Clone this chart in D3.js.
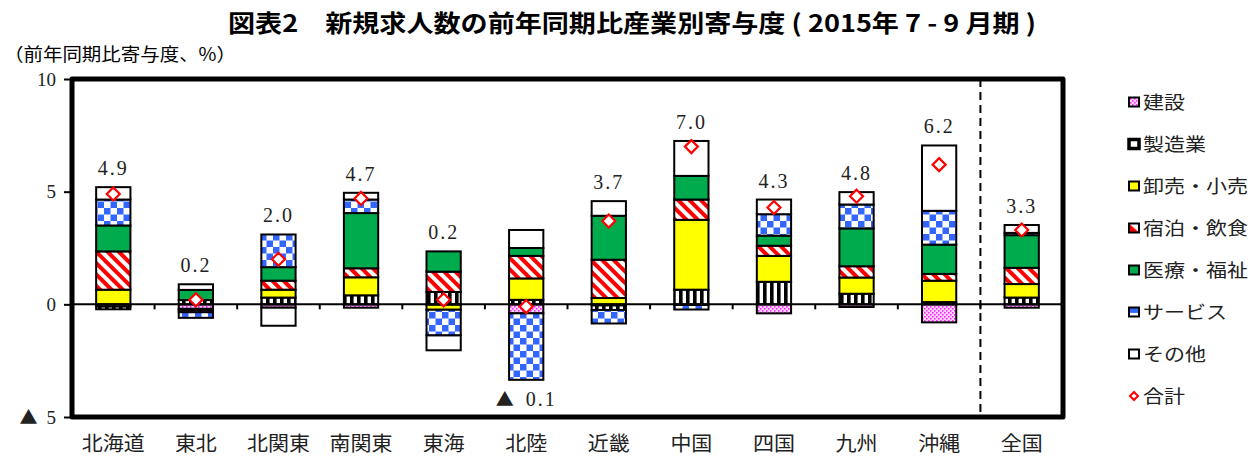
<!DOCTYPE html>
<html><head><meta charset="utf-8">
<script src="https://cdn.jsdelivr.net/npm/d3@7"></script>
<style>
html,body{margin:0;padding:0;background:#fff;}
svg{display:block;}
</style></head>
<body>
<svg id="chart" width="1258" height="457"></svg>
<script>
const categories = ["北海道","東北","北関東","南関東","東海","北陸","近畿","中国","四国","九州","沖縄","全国"];
const seriesNames = ["建設","製造業","卸売・小売","宿泊・飲食","医療・福祉","サービス","その他"];
const construction  = [-0.10,-0.20,-0.15,-0.15,-0.02,-0.40,-0.05,-0.03,-0.40,-0.12,-0.80,-0.15];
const manufacturing = [-0.12, 0.19, 0.30, 0.40, 0.55, 0.20,-0.20, 0.65, 1.00, 0.47, 0.10, 0.30];
const wholesale     = [ 0.65,-0.05, 0.35, 0.80,-0.22, 0.95, 0.28, 3.10, 1.15, 0.72, 0.95, 0.60];
const hospitality   = [ 1.70,-0.10, 0.40, 0.40, 0.90, 1.00, 1.70, 0.90, 0.45, 0.50, 0.30, 0.72];
const medical       = [ 1.15, 0.45, 0.60, 2.45, 0.90, 0.35, 1.95, 1.05, 0.45, 1.68, 1.30, 1.45];
const services      = [ 1.15,-0.25, 1.45, 0.60,-1.14,-2.95,-0.60,-0.20, 0.95, 1.06, 1.50, 0.10];
const other         = [ 0.55, 0.25,-0.80, 0.30,-0.66, 0.80, 0.65, 1.55, 0.65, 0.55, 2.90, 0.35];
const total         = [ 4.9, 0.2, 2.0, 4.7, 0.2, -0.1, 3.7, 7.0, 4.3, 4.8, 6.2, 3.3];
const yTicks = [10, 5, 0, -5];

const seriesValues = [construction, manufacturing, wholesale, hospitality, medical, services, other];
const table = categories.map((c, i) => {
  const row = {cat: c};
  seriesNames.forEach((k, j) => row[k] = seriesValues[j][i]);
  return row;
});

const svg = d3.select("#chart");
const defs = svg.append("defs");

// patterns
const pC = defs.append("pattern").attr("id","pC").attr("patternUnits","userSpaceOnUse").attr("width",4).attr("height",4);
pC.append("rect").attr("width",4).attr("height",4).attr("fill","#ffd6ff");
pC.append("rect").attr("x",0).attr("y",0).attr("width",1.6).attr("height",1.6).attr("fill","#ff22ff");
pC.append("rect").attr("x",2).attr("y",2).attr("width",1.6).attr("height",1.6).attr("fill","#ff22ff");

const pM = defs.append("pattern").attr("id","pM").attr("patternUnits","userSpaceOnUse").attr("width",7).attr("height",10);
pM.append("rect").attr("width",7).attr("height",10).attr("fill","#fff");
pM.append("rect").attr("x",0).attr("width",3.6).attr("height",10).attr("fill","#000");

const pH = defs.append("pattern").attr("id","pH").attr("patternUnits","userSpaceOnUse").attr("width",8).attr("height",10).attr("patternTransform","rotate(-45)");
pH.append("rect").attr("width",8).attr("height",10).attr("fill","#fff");
pH.append("rect").attr("x",0).attr("width",4).attr("height",10).attr("fill","#ff0000");

const pS = defs.append("pattern").attr("id","pS").attr("patternUnits","userSpaceOnUse").attr("width",13).attr("height",13);
pS.append("rect").attr("width",13).attr("height",13).attr("fill","#fff");
pS.append("rect").attr("x",0).attr("y",0).attr("width",6.5).attr("height",6.5).attr("fill","#3366ff");
pS.append("rect").attr("x",6.5).attr("y",6.5).attr("width",6.5).attr("height",6.5).attr("fill","#3366ff");

const fills = {
  "建設":"url(#pC)", "製造業":"url(#pM)", "卸売・小売":"#ffff00", "宿泊・飲食":"url(#pH)",
  "医療・福祉":"#00ab4e", "サービス":"url(#pS)", "その他":"#ffffff"
};

const x0 = 72, x1 = 1063;
const x = d3.scaleBand().domain(categories).range([x0, x1]).padding(0);
const y = d3.scaleLinear().domain([-5, 10]).range([417, 79]);
const barW = x.bandwidth() * 0.415;

const cjk = "'Noto Sans CJK JP', sans-serif";
const serif = "'Liberation Serif', 'DejaVu Serif', serif";

// Title
svg.append("text").attr("x", 228).attr("y", 32)
  .attr("font-family", cjk).attr("font-weight", "bold").attr("font-size", 24)
  .attr("textLength", 808).attr("lengthAdjust", "spacingAndGlyphs")
  .text("図表2　新規求人数の前年同期比産業別寄与度 ( 2015年 7 - 9 月期 )");
svg.append("text").attr("x", 4).attr("y", 61)
  .attr("font-family", cjk).attr("font-size", 18)
  .attr("textLength", 232).attr("lengthAdjust", "spacingAndGlyphs")
  .text("（前年同期比寄与度、%）");

// stacks
const stack = d3.stack().keys(seriesNames).offset(d3.stackOffsetDiverging);
const stacked = stack(table);

const g = svg.append("g");
stacked.forEach(layer => {
  g.append("g").selectAll("rect").data(layer).join("rect")
    .attr("x", d => x(d.data.cat) + x.bandwidth()/2 - barW/2)
    .attr("width", barW)
    .attr("y", d => y(Math.max(d[0], d[1])))
    .attr("height", d => Math.abs(y(d[0]) - y(d[1])))
    .attr("fill", fills[layer.key])
    .attr("stroke", "#000").attr("stroke-width", 2);
});

// zero line
svg.append("line").attr("x1", x0).attr("x2", x1).attr("y1", y(0)).attr("y2", y(0))
  .attr("stroke", "#000").attr("stroke-width", 2);
// ticks at band boundaries
categories.slice(1).forEach(c => {
  svg.append("line").attr("x1", x(c)).attr("x2", x(c)).attr("y1", y(0)).attr("y2", y(0) + 5)
    .attr("stroke", "#000").attr("stroke-width", 2);
});
// dashed separator
svg.append("line").attr("x1", x("全国")).attr("x2", x("全国")).attr("y1", y(10)).attr("y2", y(-5))
  .attr("stroke", "#000").attr("stroke-width", 2).attr("stroke-dasharray", "8,5");

// border
svg.append("rect").attr("x", x0).attr("y", y(10)).attr("width", x1 - x0).attr("height", y(-5) - y(10))
  .attr("fill", "none").attr("stroke", "#000").attr("stroke-width", 5).attr("stroke-linejoin", "round");

// y axis
const yAxis = d3.axisLeft(y).tickValues(yTicks).tickSize(6).tickPadding(8)
  .tickFormat(v => String(Math.abs(v)));
const ya = svg.append("g").attr("transform", `translate(${x0 - 2},0)`).call(yAxis);
ya.select(".domain").remove();
ya.selectAll(".tick line").attr("stroke-width", 2);
ya.selectAll("text").attr("font-family", serif).attr("font-size", 19).attr("fill", "#222");
ya.selectAll(".tick").filter(v => v < 0).select("text").each(function(v) {
  const t = d3.select(this);
  t.text(null);
  t.append("tspan").attr("font-family", cjk).attr("font-size", 18).text("▲");
  t.append("tspan").attr("dx", 9).text(String(Math.abs(v)));
});

// x labels
svg.append("g").selectAll("text").data(categories).join("text")
  .attr("x", d => x(d) + x.bandwidth()/2).attr("y", 451)
  .attr("text-anchor", "middle")
  .attr("font-family", cjk).attr("font-size", 20).attr("fill", "#222")
  .attr("textLength", d => d.length * 21).attr("lengthAdjust", "spacingAndGlyphs")
  .text(d => d);

// total labels
const posTop = categories.map((c, i) => d3.sum(seriesValues, s => Math.max(0, s[i])));
const negBot = categories.map((c, i) => d3.sum(seriesValues, s => Math.min(0, s[i])));
const lbl = svg.append("g").selectAll("text").data(categories).join("text")
  .attr("x", d => x(d) + x.bandwidth()/2)
  .attr("y", (d, i) => total[i] >= 0 ? y(posTop[i]) - 12 : y(negBot[i]) + 26)
  .attr("text-anchor", "middle")
  .attr("font-family", serif).attr("font-size", 20).attr("letter-spacing", 2).attr("fill", "#222");
lbl.each(function(d, i) {
  const t = d3.select(this);
  if (total[i] < 0) {
    t.append("tspan").attr("font-family", cjk).attr("font-size", 18).text("▲");
    t.append("tspan").attr("dx", 10).text(Math.abs(total[i]).toFixed(1));
  } else {
    t.text(total[i].toFixed(1));
  }
});

// diamonds
const dm = 6.5;
const diamond = `M0,${-dm}L${dm},0L0,${dm}L${-dm},0Z`;
svg.append("g").selectAll("path").data(categories).join("path")
  .attr("transform", (d, i) => `translate(${x(d) + x.bandwidth()/2},${y(total[i])})`)
  .attr("d", diamond).attr("fill", "#fff").attr("stroke", "#ff0000").attr("stroke-width", 2.2);

// legend
const legendNames = seriesNames.concat(["合計"]);
const lg = svg.append("g");
legendNames.forEach((name, i) => {
  const cy = 102 + i * 42;
  const sx = 1129, sw = 10, sh = 9;
  if (name === "合計") {
    lg.append("path").attr("transform", `translate(${sx + sw/2},${cy})`)
      .attr("d", "M0,-4L4,0L0,4L-4,0Z").attr("fill", "#fff").attr("stroke", "#ff0000").attr("stroke-width", 2);
  } else if (name === "宿泊・飲食") {
    lg.append("rect").attr("x", sx).attr("y", cy - sh/2).attr("width", sw).attr("height", sh).attr("fill", "#fff");
    lg.append("path").attr("d", `M${sx},${cy - sh/2}L${sx + sw},${cy + sh/2}L${sx},${cy + sh/2}Z`).attr("fill", "#ff0000");
    lg.append("rect").attr("x", sx).attr("y", cy - sh/2).attr("width", sw).attr("height", sh).attr("fill", "none").attr("stroke", "#000").attr("stroke-width", 2);
  } else if (name === "製造業") {
    lg.append("rect").attr("x", sx).attr("y", cy - sh/2).attr("width", sw).attr("height", sh).attr("fill", "#fff").attr("stroke", "#000").attr("stroke-width", 3.5);
  } else if (name === "サービス") {
    lg.append("rect").attr("x", sx).attr("y", cy - sh/2).attr("width", sw).attr("height", sh).attr("fill", "#fff");
    lg.append("rect").attr("x", sx).attr("y", cy - sh/2).attr("width", sw).attr("height", sh * 0.6).attr("fill", "#3366ff");
    lg.append("rect").attr("x", sx).attr("y", cy - sh/2).attr("width", sw).attr("height", sh).attr("fill", "none").attr("stroke", "#000").attr("stroke-width", 2);
  } else {
    lg.append("rect").attr("x", sx).attr("y", cy - sh/2).attr("width", sw).attr("height", sh)
      .attr("fill", fills[name]).attr("stroke", "#000").attr("stroke-width", 2);
  }
  lg.append("text").attr("x", 1143).attr("y", cy + 7)
    .attr("font-family", cjk).attr("font-size", 18).attr("fill", "#222")
    .attr("textLength", name.length * 21).attr("lengthAdjust", "spacingAndGlyphs")
    .text(name);
});
</script>
</body></html>
